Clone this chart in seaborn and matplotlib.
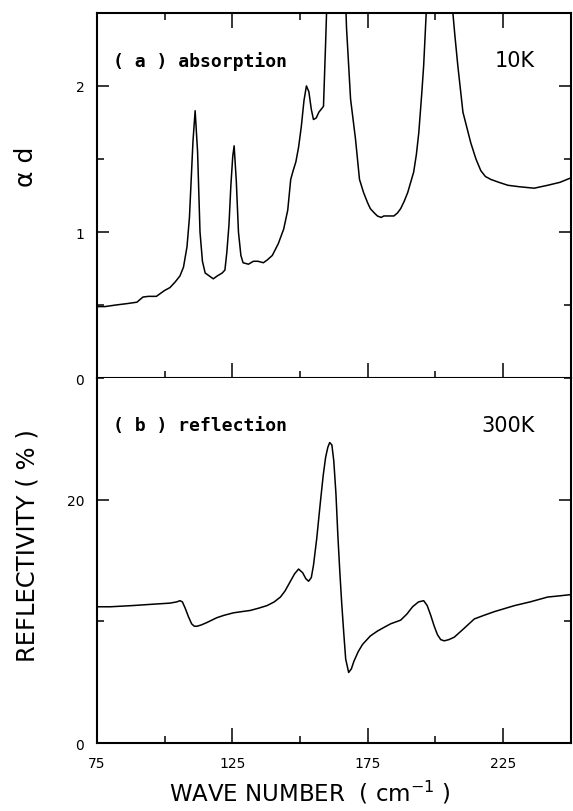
import numpy as np
import pandas as pd
import matplotlib
matplotlib.use("Agg")
import matplotlib.pyplot as plt
from matplotlib.ticker import MultipleLocator, FixedLocator
import seaborn as sns

# (a) absorption, 10K  -- alpha*d vs wave number
abs_wn = [75, 78, 81.7, 86, 89.8, 92, 94, 97, 100, 102, 104, 105.7, 107, 108.3,
          109.2, 109.8, 110.5, 111.3, 112.2, 113.1, 114, 115, 116.5, 118, 119.5,
          121.3, 122.3, 123, 123.8, 124.5, 125.2, 125.7, 126.5, 127.3, 128.2, 129,
          131, 132.8, 134.5, 136.5, 138, 139.8, 142, 144, 145.5, 146.6, 147.5,
          148.5, 149.5, 150.5, 151.5, 152.4, 153.3, 154.2, 155, 156, 157, 158.7,
          159.5, 160.5, 162, 163.5, 165, 166.5, 167.2, 168.7, 170.5, 172, 173.5,
          175, 176, 177.5, 178.6, 180, 181, 183, 184.7, 186, 187.2, 188.5, 189.8,
          192, 193, 193.9, 195, 195.7, 196.9, 199, 201.5, 204, 206, 207.2, 208.3,
          210.2, 213.1, 215, 216.8, 218.5, 220.5, 223.5, 226.8, 231, 236.5,
          241.5, 246, 250]
abs_val = [0.49, 0.49, 0.50, 0.51, 0.52, 0.555, 0.56, 0.56, 0.60, 0.62, 0.66,
           0.70, 0.76, 0.90, 1.10, 1.34, 1.62, 1.83, 1.55, 1.00, 0.80, 0.72,
           0.70, 0.68, 0.70, 0.72, 0.74, 0.86, 1.05, 1.32, 1.52, 1.59, 1.35, 1.00,
           0.84, 0.79, 0.78, 0.80, 0.80, 0.79, 0.81, 0.84, 0.92, 1.02, 1.15, 1.36,
           1.42, 1.48, 1.58, 1.72, 1.90, 2.00, 1.96, 1.84, 1.77, 1.78, 1.82, 1.86,
           2.30, 2.90, 3.40, 3.60, 3.40, 2.80, 2.40, 1.91, 1.64, 1.36, 1.27, 1.20,
           1.16, 1.13, 1.11, 1.10, 1.11, 1.11, 1.11, 1.13, 1.16, 1.21, 1.27,
           1.41, 1.53, 1.68, 1.95, 2.14, 2.60, 3.30, 3.60, 3.30, 2.60, 2.35, 2.14,
           1.82, 1.61, 1.50, 1.42, 1.38, 1.36, 1.34, 1.32, 1.31, 1.30, 1.32,
           1.34, 1.37]

# (b) reflection, 300K -- reflectivity (%) vs wave number
ref_wn = [75, 80, 88.3, 95, 102, 104.5, 105.7, 106.6, 107.6, 108.8, 110, 111,
          112, 113.5, 115.6, 119.3, 122, 125.4, 128.5, 131.7, 135, 137.9, 140.5,
          142.8, 144.5, 146.5, 148, 149.5, 151, 152.2, 153.2, 154.2, 155, 156.2,
          157.6, 158.6, 159.5, 160.3, 161, 161.8, 162.5, 163.3, 164, 164.7,
          165.4, 166.2, 166.9, 168, 169, 169.9, 171.5, 173.1, 176, 178.6, 181,
          183.5, 187.2, 189.5, 191.6, 193.8, 195.7, 197, 198.3, 199.6, 200.8,
          202, 203.3, 205, 207, 210.5, 214.4, 218, 221.8, 229.3, 235, 241.5, 246,
          250]
ref_val = [11.2, 11.2, 11.3, 11.4, 11.5, 11.6, 11.7, 11.6, 11.1, 10.4, 9.8,
           9.6, 9.6, 9.7, 9.9, 10.3, 10.5, 10.7, 10.8, 10.9, 11.1, 11.3, 11.6,
           12.0, 12.5, 13.3, 13.9, 14.3, 14.0, 13.5, 13.3, 13.6, 14.6, 16.8, 19.9,
           22.0, 23.5, 24.3, 24.7, 24.5, 23.2, 20.5, 17.1, 14.2, 11.6, 9.0, 6.9,
           5.8, 6.1, 6.7, 7.5, 8.1, 8.8, 9.2, 9.5, 9.8, 10.1, 10.6, 11.2, 11.6,
           11.7, 11.3, 10.5, 9.6, 8.9, 8.5, 8.4, 8.5, 8.7, 9.4, 10.2, 10.5, 10.8,
           11.3, 11.6, 12.0, 12.1, 12.2]

x_major = [75, 125, 175, 225]
x_minor = [100, 150, 200, 250]

df_a = pd.DataFrame({"wn": abs_wn, "val": abs_val})
df_b = pd.DataFrame({"wn": ref_wn, "val": ref_val})

sns.set_style("ticks")
plt.rcParams["font.family"] = ["DejaVu Sans"]
plt.rcParams["text.color"] = "black"
plt.rcParams["axes.labelcolor"] = "black"
plt.rcParams["xtick.color"] = "black"
plt.rcParams["ytick.color"] = "black"
plt.rcParams["axes.edgecolor"] = "black"

fig = plt.figure(figsize=(5.73, 8.12), dpi=100)
ax1 = fig.add_axes([0.169, 0.533, 0.827, 0.450])
ax2 = fig.add_axes([0.169, 0.0837, 0.827, 0.4495])

sns.lineplot(data=df_a, x="wn", y="val", ax=ax1, color="black", linewidth=1.1)
sns.lineplot(data=df_b, x="wn", y="val", ax=ax2, color="black", linewidth=1.1)

for ax in (ax1, ax2):
    ax.set_xlim(75, 250)
    ax.xaxis.set_major_locator(FixedLocator(x_major))
    ax.xaxis.set_minor_locator(FixedLocator(x_minor))
    ax.tick_params(axis="x", which="major", direction="in", length=11, width=1.1,
                   labelsize=10, pad=9)
    ax.tick_params(axis="x", which="minor", direction="in", length=5, width=1.1)
    ax.tick_params(axis="y", which="major", direction="in", length=8.5, width=1.1,
                   labelsize=10, pad=9, left=True, right=True)
    ax.tick_params(axis="y", which="minor", direction="in", length=5, width=1.1,
                   left=True, right=True)
    for s in ax.spines.values():
        s.set_visible(True)
        s.set_linewidth(1.5)
    ax.set_xlabel("")

ax1.set_ylim(0, 2.5)
ax1.yaxis.set_major_locator(MultipleLocator(1))
ax1.yaxis.set_minor_locator(MultipleLocator(0.5))
ax1.tick_params(axis="x", which="both", top=True, bottom=True, labelbottom=False)
ax1.set_ylabel("α d", fontsize=18)
ax1.yaxis.set_label_coords(-0.125, 0.58)
ax1.text(0.035, 0.87, "( a ) absorption", transform=ax1.transAxes,
         fontsize=13, fontweight="bold", family="DejaVu Sans Mono", va="center")
ax1.text(0.925, 0.87, "10K", transform=ax1.transAxes, fontsize=15,
         ha="right", va="center")

ax2.set_ylim(0, 30)
ax2.yaxis.set_major_locator(MultipleLocator(20))
ax2.yaxis.set_minor_locator(MultipleLocator(10))
ax2.tick_params(axis="x", which="both", top=False, bottom=True)
ax2.spines["top"].set_visible(False)
ax2.set_ylabel("REFLECTIVITY ( % )", fontsize=17.5)
ax2.yaxis.set_label_coords(-0.12, 0.545)
ax2.set_xlabel("WAVE NUMBER  ( cm$^{-1}$ )", fontsize=16.5)
ax2.xaxis.set_label_coords(0.45, -0.095)
ax2.text(0.035, 0.87, "( b ) reflection", transform=ax2.transAxes,
         fontsize=13, fontweight="bold", family="DejaVu Sans Mono", va="center")
ax2.text(0.925, 0.87, "300K", transform=ax2.transAxes, fontsize=15,
         ha="right", va="center")

fig.savefig("out.png", dpi=100)
